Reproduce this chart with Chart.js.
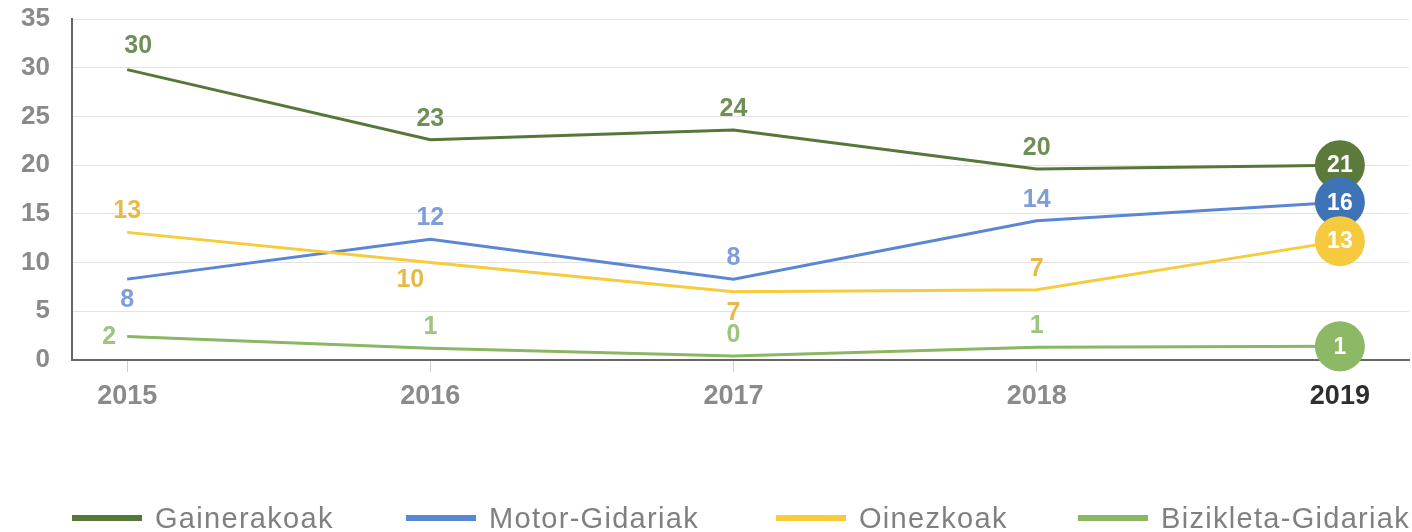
<!DOCTYPE html>
<html>
<head>
<meta charset="utf-8">
<script src="https://cdn.jsdelivr.net/npm/chart.js@4/dist/chart.umd.min.js"></script>
<style>
  html, body { margin: 0; padding: 0; background: #fff; }
  #wrap { position: relative; width: 1412px; height: 532px; overflow: hidden; }
  #legend { position: absolute; left: 0; top: 0; width: 1412px; height: 532px; pointer-events: none; }
  .item { position: absolute; top: 503px; height: 30px; display: flex; align-items: center; white-space: nowrap; }
  .swatch { width: 70px; height: 6px; margin-right: 13px; }
  .txt { font-family: 'Liberation Sans', Arial, sans-serif; font-size: 29px; color: #808080; letter-spacing: 1.3px; }
</style>
</head>
<body>
<div id="wrap">
  <canvas id="chart" width="1412" height="532"></canvas>
  <div id="legend"></div>
</div>
<script>
const years = [2015, 2016, 2017, 2018, 2019];

// line positions
const gainerakoak = [29.8, 22.6, 23.6, 19.6, 20.0];
const motorGidariak = [8.3, 12.4, 8.3, 14.3, 16.2];
const oinezkoak = [13.1, 10.0, 7.0, 7.2, 12.2];
const bizikletaGidariak = [2.4, 1.2, 0.4, 1.3, 1.4];

// printed value labels
const gainerakoakLabels = [30, 23, 24, 20, 21];
const motorLabels = [8, 12, 8, 14, 16];
const oinezkoakLabels = [13, 10, 7, 7, 13];
const bizikletaLabels = [2, 1, 0, 1, 1];

const seriesNames = ['Gainerakoak', 'Motor-Gidariak', 'Oinezkoak', 'Bizikleta-Gidariak'];

const COLORS = {
  gainerakoak: { line: '#55773a', label: '#6e8f55', dot: '#5b7a3c' },
  motor: { line: '#5b86d3', label: '#7d9ddb', dot: '#3f73b7' },
  oinezkoak: { line: '#f6cb3c', label: '#e9b948', dot: '#f5ca3e' },
  bizikleta: { line: '#8ab763', label: '#9dc57c', dot: '#8db865' }
};

const legendX = [72, 406, 776, 1078];

function makeSet(name, values, labels, c, order, pos) {
  return {
    label: name,
    data: values.map((v, i) => ({ x: years[i], y: v })),
    valueLabels: labels,
    labelPos: pos,
    labelColor: c.label,
    borderColor: c.line,
    backgroundColor: c.dot,
    borderWidth: 3,
    tension: 0,
    pointRadius: values.map((v, i) => i === values.length - 1 ? 25 : 0),
    pointHoverRadius: values.map((v, i) => i === values.length - 1 ? 25 : 0),
    pointBackgroundColor: c.dot,
    pointBorderWidth: 0,
    clip: false,
    order: order
  };
}

const datasets = [
  makeSet(seriesNames[0], gainerakoak, gainerakoakLabels, COLORS.gainerakoak, 4,
    ['aboveRight', 'above', 'above', 'above']),
  makeSet(seriesNames[1], motorGidariak, motorLabels, COLORS.motor, 3,
    ['below', 'above', 'above', 'above']),
  makeSet(seriesNames[2], oinezkoak, oinezkoakLabels, COLORS.oinezkoak, 2,
    ['above', 'belowLeft', 'below', 'above']),
  makeSet(seriesNames[3], bizikletaGidariak, bizikletaLabels, COLORS.bizikleta, 1,
    ['left', 'above', 'above', 'above'])
];

// draws the value labels and the white numbers in the end circles
const valueLabels = {
  id: 'valueLabels',
  afterDatasetsDraw(chart) {
    const ctx = chart.ctx;
    ctx.save();
    ctx.textAlign = 'center';
    ctx.textBaseline = 'middle';
    chart.data.datasets.forEach((ds, di) => {
      const meta = chart.getDatasetMeta(di);
      meta.data.forEach((pt, i) => {
        const txt = String(ds.valueLabels[i]);
        if (i === meta.data.length - 1) {
          ctx.font = 'bold 23px "Liberation Sans", Arial, sans-serif';
          ctx.fillStyle = '#ffffff';
          ctx.fillText(txt, pt.x, pt.y + 1);
          return;
        }
        const pos = ds.labelPos[i];
        let dx = 0, dy = 0;
        if (pos === 'above') dy = -21;
        if (pos === 'aboveRight') { dy = -24; dx = 11; }
        if (pos === 'below') dy = 21;
        if (pos === 'belowLeft') { dy = 18; dx = -20; }
        if (pos === 'left') { dx = -18; }
        ctx.font = 'bold 25px "Liberation Sans", Arial, sans-serif';
        ctx.fillStyle = ds.labelColor;
        ctx.fillText(txt, pt.x + dx, pt.y + dy);
      });
    });
    ctx.restore();
  }
};

new Chart(document.getElementById('chart'), {
  type: 'line',
  data: { datasets },
  plugins: [valueLabels],
  options: {
    responsive: false,
    animation: false,
    layout: { autoPadding: false, padding: { top: 19, right: 3, left: 0, bottom: 0 } },
    plugins: {
      legend: { display: false },
      tooltip: { enabled: false }
    },
    scales: {
      x: {
        type: 'linear',
        min: 2014.818,
        max: 2019.228,
        afterBuildTicks: (scale) => { scale.ticks = years.map(v => ({ value: v })); },
        afterFit: (scale) => {
          scale.height = 172;
          scale.paddingLeft = 0;
          scale.paddingRight = 0;
        },
        grid: { drawOnChartArea: false, tickLength: 12, color: '#cfcfcf', lineWidth: 1 },
        border: { color: '#666666', width: 2 },
        ticks: {
          padding: 8,
          maxRotation: 0,
          autoSkip: false,
          callback: (v) => String(v),
          color: (c) => c.tick && c.tick.value === 2019 ? '#2e2e2e' : '#8a8a8a',
          font: { size: 27, weight: 'bold', family: '"Liberation Sans", Arial, sans-serif' }
        }
      },
      y: {
        min: 0,
        max: 35,
        afterFit: (scale) => {
          scale.width = 72;
          scale.paddingTop = 0;
          scale.paddingBottom = 0;
        },
        grid: { color: '#e3e3e3', lineWidth: 1, drawTicks: false },
        border: { color: '#666666', width: 2 },
        ticks: {
          stepSize: 5,
          padding: 22,
          color: '#8a8a8a',
          font: { size: 26, weight: 'bold', family: '"Liberation Sans", Arial, sans-serif' }
        }
      }
    }
  }
});

// legend below the plot
const legend = document.getElementById('legend');
datasets.forEach((ds, i) => {
  const item = document.createElement('div');
  item.className = 'item';
  item.style.left = legendX[i] + 'px';
  item.innerHTML = '<span class="swatch" style="background:' + ds.borderColor + '"></span>' +
    '<span class="txt">' + ds.label + '</span>';
  legend.appendChild(item);
});
</script>
</body>
</html>
